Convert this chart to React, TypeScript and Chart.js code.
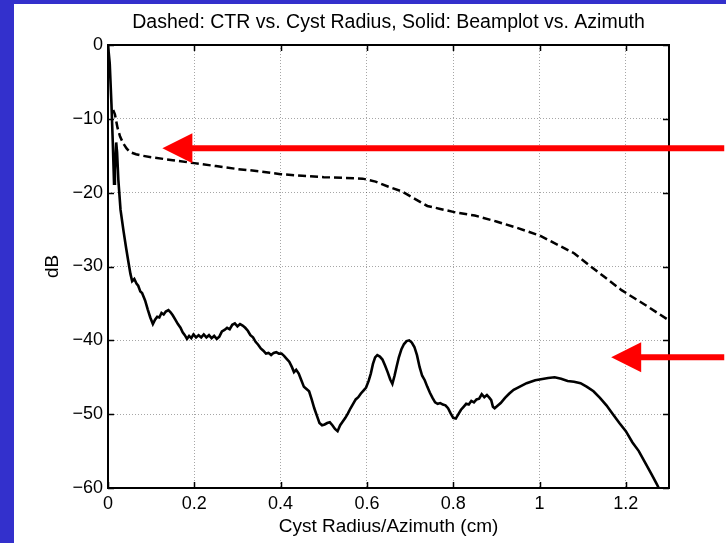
import React, { useEffect, useRef } from "react";
import { Chart, registerables } from "chart.js";

Chart.register(...registerables);

// ---- data (dB vs cm) ----
const ctrX = [0.012, 0.016, 0.022, 0.028, 0.035, 0.043, 0.051, 0.065, 0.08, 0.1, 0.15, 0.2, 0.25, 0.3, 0.35, 0.4, 0.45, 0.5, 0.55, 0.59, 0.62, 0.65, 0.68, 0.71, 0.74, 0.77, 0.8, 0.85, 0.9, 0.95, 1.0, 1.04, 1.08, 1.11, 1.15, 1.19, 1.22, 1.25, 1.3];
const ctrY = [-8.8, -9.4, -11.2, -12.4, -13.3, -14.0, -14.5, -14.8, -15.0, -15.2, -15.6, -16.0, -16.4, -16.8, -17.1, -17.5, -17.7, -17.9, -18.0, -18.1, -18.5, -19.2, -19.8, -20.8, -21.8, -22.2, -22.6, -23.1, -23.9, -24.8, -25.8, -27.0, -28.2, -29.6, -31.4, -33.2, -34.3, -35.4, -37.3];

const beamX = [0, 0.004, 0.008, 0.011, 0.014, 0.016, 0.019, 0.021, 0.024, 0.029, 0.036, 0.042, 0.047, 0.052, 0.056, 0.061, 0.066, 0.07, 0.075, 0.079, 0.086, 0.092, 0.098, 0.104, 0.109, 0.114, 0.119, 0.124, 0.129, 0.134, 0.14, 0.145, 0.15, 0.156, 0.162, 0.168, 0.173, 0.178, 0.183, 0.188, 0.193, 0.198, 0.204, 0.21, 0.216, 0.222, 0.228, 0.234, 0.24, 0.246, 0.252, 0.258, 0.264, 0.27, 0.276, 0.282, 0.288, 0.294, 0.3, 0.306, 0.312, 0.318, 0.324, 0.33, 0.336, 0.342, 0.348, 0.354, 0.36, 0.366, 0.372, 0.378, 0.384, 0.39, 0.396, 0.402, 0.408, 0.414, 0.42, 0.426, 0.431, 0.436, 0.442, 0.448, 0.454, 0.46, 0.466, 0.472, 0.478, 0.484, 0.49, 0.496, 0.502, 0.508, 0.514, 0.52, 0.526, 0.532, 0.538, 0.544, 0.55, 0.556, 0.562, 0.568, 0.574, 0.58, 0.586, 0.592, 0.598, 0.604, 0.609, 0.614, 0.619, 0.624, 0.63, 0.636, 0.642, 0.648, 0.654, 0.659, 0.664, 0.669, 0.674, 0.68, 0.686, 0.692, 0.698, 0.704, 0.71, 0.716, 0.722, 0.728, 0.734, 0.74, 0.746, 0.752, 0.758, 0.764, 0.77, 0.776, 0.782, 0.788, 0.794, 0.8, 0.806, 0.812, 0.818, 0.824, 0.83, 0.836, 0.842, 0.848, 0.854, 0.86, 0.866, 0.872, 0.878, 0.884, 0.888, 0.892, 0.896, 0.902, 0.91, 0.92, 0.93, 0.94, 0.95, 0.96, 0.97, 0.98, 0.99, 1.0, 1.01, 1.02, 1.035, 1.05, 1.065, 1.08, 1.095, 1.11, 1.125, 1.14, 1.155, 1.17, 1.185, 1.2, 1.215, 1.23, 1.245, 1.26, 1.272, 1.28];
const beamY = [0, -2.5, -8, -13, -18.8, -17, -13.2, -14.5, -18.3, -22.3, -25.2, -27.5, -29.3, -31, -32, -31.7, -32.3, -32.6, -33.4, -33.6, -34.6, -35.8, -36.9, -37.8, -37.2, -36.8, -36.9, -36.3, -36.5, -36.1, -35.9, -36.2, -36.6, -37.2, -37.8, -38.3, -38.9, -39.3, -39.8, -39.4, -39.7, -39.2, -39.6, -39.3, -39.6, -39.2, -39.6, -39.3, -39.7, -39.4, -39.8, -39.5, -38.8, -38.6, -38.3, -38.5, -37.9, -37.7, -38.1, -37.8, -38.0, -38.3, -38.7, -39.3, -39.6, -40.2, -40.6, -41.1, -41.4, -41.8, -41.7, -42.0, -41.7, -41.6, -41.8, -41.8, -42.1, -42.5, -42.9, -43.6, -44.3, -44.0, -44.5, -45.4, -46.3, -46.6, -46.9, -48.0, -49.2, -50.2, -51.2, -51.5, -51.4, -51.2, -51.1, -51.5, -52.0, -52.3, -51.5, -51.0, -50.5, -49.9, -49.2, -48.6, -48.0, -47.7, -47.2, -46.8, -46.4, -45.5, -44.5, -43.2, -42.3, -42.0, -42.2, -42.6, -43.4, -44.3, -45.3, -45.9, -44.8, -43.5, -42.3, -41.2, -40.5, -40.1, -40.0, -40.3, -40.9, -42.0, -43.6, -44.8, -45.4, -46.3, -47.1, -47.8, -48.4, -48.6, -48.5, -48.7, -48.8, -49.2, -49.9, -50.5, -50.6, -50.0, -49.4, -49.0, -48.6, -48.7, -48.2, -48.4, -48.0, -47.9, -47.3, -47.7, -47.4, -47.8, -48.1, -49.0, -49.2, -48.9, -48.5, -47.8, -47.2, -46.7, -46.4, -46.1, -45.8, -45.6, -45.4, -45.3, -45.2, -45.1, -45.0, -45.2, -45.5, -45.6, -45.8, -46.3, -46.9, -47.8, -48.8, -50.0, -51.2, -52.3, -53.8, -55.0, -56.6, -58.2, -59.5, -60.5];

const xTicks = [0, 0.2, 0.4, 0.6, 0.8, 1, 1.2];
const yTicks = [-60, -50, -40, -30, -20, -10, 0];

const titleText = "Dashed: CTR vs. Cyst Radius, Solid: Beamplot vs. Azimuth";

// red annotation arrows (tips in data units, tails run off to the right)
const arrowTipX = [0.126, 1.166];
const arrowTipY = [-14, -42.3];
const arrowTailX = 1.428;

const FONT = "'Liberation Sans', Arial, Helvetica, sans-serif";

const framePlugin = {
  id: "frame",
  afterDatasetsDraw(chart: any) {
    const { ctx, chartArea: a, scales } = chart;
    ctx.save();
    ctx.strokeStyle = "#000";
    ctx.lineWidth = 1.5;
    ctx.beginPath();
    xTicks.forEach((v) => {
      const p = Math.round(scales.x.getPixelForValue(v)) + 0.5;
      ctx.moveTo(p, a.bottom);
      ctx.lineTo(p, a.bottom - 6);
      ctx.moveTo(p, a.top);
      ctx.lineTo(p, a.top + 6);
    });
    yTicks.forEach((v) => {
      const p = Math.round(scales.y.getPixelForValue(v)) + 0.5;
      ctx.moveTo(a.left, p);
      ctx.lineTo(a.left + 6, p);
      ctx.moveTo(a.right, p);
      ctx.lineTo(a.right - 6, p);
    });
    ctx.stroke();
    ctx.lineWidth = 2;
    ctx.strokeRect(a.left, a.top, a.right - a.left, a.bottom - a.top);
    ctx.restore();
  },
  afterDraw(chart: any) {
    const { ctx, scales, chartArea: a } = chart;
    ctx.save();
    // title centred over the plot area
    ctx.fillStyle = "#000";
    ctx.font = `19.5px ${FONT}`;
    ctx.textAlign = "center";
    ctx.textBaseline = "middle";
    ctx.fillText(titleText, (a.left + a.right) / 2, a.top - 22);
    // arrows
    ctx.fillStyle = "#ff0000";
    ctx.strokeStyle = "#ff0000";
    arrowTipX.forEach((tx, i) => {
      const px = scales.x.getPixelForValue(tx);
      const py = scales.y.getPixelForValue(arrowTipY[i]);
      const tail = scales.x.getPixelForValue(arrowTailX);
      const headLen = 30;
      const headHalf = 15;
      ctx.lineWidth = 6;
      ctx.beginPath();
      ctx.moveTo(px + headLen - 2, py);
      ctx.lineTo(tail, py);
      ctx.stroke();
      ctx.beginPath();
      ctx.moveTo(px, py);
      ctx.lineTo(px + headLen, py - headHalf);
      ctx.lineTo(px + headLen, py + headHalf);
      ctx.closePath();
      ctx.fill();
    });
    ctx.restore();
  },
};

export default function App() {
  const ref = useRef<HTMLCanvasElement | null>(null);

  useEffect(() => {
    if (!ref.current) return;
    const ctrData = ctrX.map((x, i) => ({ x, y: ctrY[i] }));
    const beamData = beamX.map((x, i) => ({ x, y: beamY[i] }));
    const chart = new Chart(ref.current, {
      type: "line",
      data: {
        datasets: [
          {
            label: "CTR vs. Cyst Radius",
            data: ctrData,
            borderColor: "#000",
            borderWidth: 2.5,
            borderDash: [8, 4],
            pointRadius: 0,
            tension: 0,
            fill: false,
          },
          {
            label: "Beamplot vs. Azimuth",
            data: beamData,
            borderColor: "#000",
            borderWidth: 2.6,
            pointRadius: 0,
            tension: 0,
            fill: false,
          },
        ],
      },
      plugins: [framePlugin],
      options: {
        animation: false,
        responsive: false,
        devicePixelRatio: 1,
        layout: { padding: { left: 0, right: 57, top: 41, bottom: 0 } },
        plugins: {
          legend: { display: false },
          tooltip: { enabled: false },
          title: { display: false },
        },
        scales: {
          x: {
            type: "linear",
            min: 0,
            max: 1.3,
            afterBuildTicks: (s: any) => {
              s.ticks = xTicks.map((v) => ({ value: v }));
            },
            afterFit: (s: any) => {
              s.height = 55;
            },
            grid: {
              color: "rgba(0,0,0,0.35)",
              lineWidth: 1,
              drawTicks: false,
              tickLength: 0,
            },
            border: { display: false, dash: [1, 2] },
            ticks: {
              color: "#000",
              font: { family: FONT, size: 18 },
              padding: 5,
              maxRotation: 0,
              callback: (v: any) => String(v),
            },
            title: {
              display: true,
              text: "Cyst Radius/Azimuth (cm)",
              color: "#000",
              font: { family: FONT, size: 19 },
              padding: { top: 0, bottom: 4.6 },
            },
          },
          y: {
            type: "linear",
            min: -60,
            max: 0,
            afterBuildTicks: (s: any) => {
              s.ticks = yTicks.map((v) => ({ value: v }));
            },
            afterFit: (s: any) => {
              s.width = 94;
            },
            grid: {
              color: "rgba(0,0,0,0.35)",
              lineWidth: 1,
              drawTicks: false,
              tickLength: 0,
            },
            border: { display: false, dash: [1, 2] },
            ticks: {
              color: "#000",
              font: { family: FONT, size: 18 },
              padding: 5,
              callback: (v: any) => String(v).replace("-", "\u2212"),
            },
            title: {
              display: true,
              text: "dB",
              color: "#000",
              font: { family: FONT, size: 19 },
              padding: { top: 27.6, bottom: 0 },
            },
          },
        },
      },
    });
    return () => chart.destroy();
  }, []);

  return (
    <div
      style={{
        position: "fixed",
        left: 0,
        top: 0,
        width: 726,
        height: 543,
        background: "#3330cc",
        overflow: "hidden",
      }}
    >
      <canvas
        ref={ref}
        width={712}
        height={539}
        style={{
          position: "absolute",
          left: 14,
          top: 4,
          width: 712,
          height: 539,
          background: "#fff",
        }}
      />
    </div>
  );
}
